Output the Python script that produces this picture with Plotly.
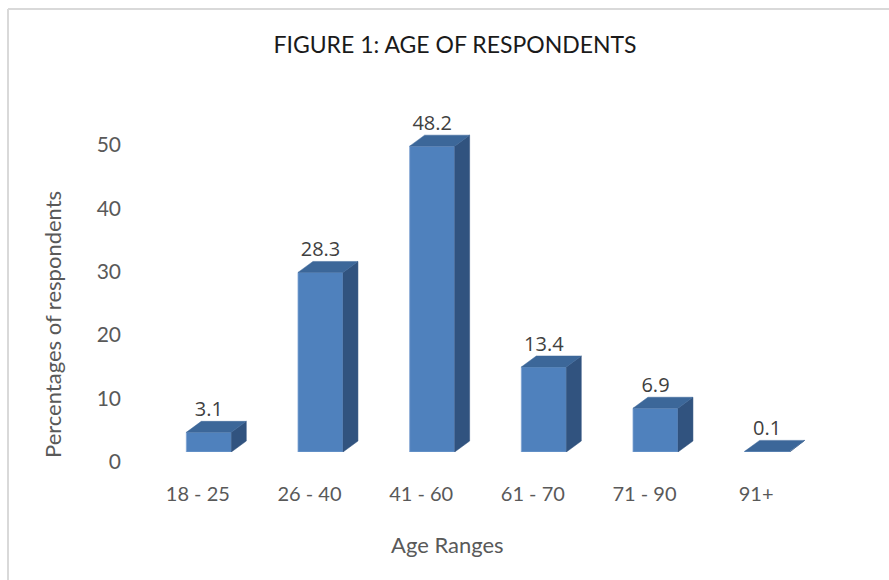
import plotly.graph_objects as go

# ---- data ----
categories = ["18 - 25", "26 - 40", "41 - 60", "61 - 70", "71 - 90", "91+"]
percentages = [3.1, 28.3, 48.2, 13.4, 6.9, 0.1]
value_labels = ["3.1", "28.3", "48.2", "13.4", "6.9", "0.1"]
y_ticks = [0, 10, 20, 30, 40, 50]

title_text = "FIGURE 1: AGE OF RESPONDENTS"
x_title = "Age Ranges"
y_title = "Percentages of respondents"

# ---- styling / 3D look ----
BAR_W = 0.403   # front face width (category units)
DX = 0.134      # depth offset in x (category units)
DY = 1.73       # depth offset in y (value units)
FRONT = "#4F81BD"
TOP = "#3C6799"
SIDE = "#31537F"
GILL = "Lato, 'Open Sans', sans-serif"
CAL = "'Open Sans', 'Liberation Sans', sans-serif"

xs = list(range(len(categories)))

side_x, side_y, top_x, top_y = [], [], [], []
for x, v in zip(xs, percentages):
    l, r = x - BAR_W / 2, x + BAR_W / 2
    side_x += [r, r + DX, r + DX, r, r, None]
    side_y += [0, DY, v + DY, v, 0, None]
    top_x += [l, r, r + DX, l + DX, l, None]
    top_y += [v, v, v + DY, v + DY, v, None]

fig = go.Figure()
fig.add_trace(go.Bar(
    x=xs, y=percentages, width=BAR_W,
    marker=dict(color=FRONT, line=dict(color="#7FA3D3", width=0.8)),
    hoverinfo="skip", showlegend=False,
))
fig.add_trace(go.Scatter(
    x=side_x, y=side_y, mode="lines", fill="toself", fillcolor=SIDE,
    line=dict(color=SIDE, width=0.5), hoverinfo="skip", showlegend=False,
))
fig.add_trace(go.Scatter(
    x=top_x, y=top_y, mode="lines", fill="toself", fillcolor=TOP,
    line=dict(color=TOP, width=0.5), hoverinfo="skip", showlegend=False,
))
fig.add_trace(go.Scatter(
    x=xs, y=[v + DY for v in percentages], mode="text",
    text=value_labels, textposition="top center",
    textfont=dict(family=CAL, size=20, color="#404040"),
    hoverinfo="skip", showlegend=False, cliponaxis=False,
))

L, R, T, B = 153, 66, 103, 128
W, H = 889, 580
pw, ph = W - L - R, H - T - B

def px_to_paper_x(px):
    return (px - L) / pw

def px_to_paper_y(py):
    return (H - B - py) / ph

fig.update_layout(
    width=W, height=H,
    margin=dict(l=L, r=R, t=T, b=B, pad=0),
    paper_bgcolor="white", plot_bgcolor="white",
    title=dict(text=title_text, x=455 / W, xref="container", xanchor="center",
               y=1 - 45 / H, yref="container", yanchor="middle",
               font=dict(family=GILL, size=23, color="#1a1a1a")),
    xaxis=dict(range=[-0.5, 5.5], tickvals=xs, ticktext=categories,
               showgrid=False, zeroline=False, showline=False, ticks="",
               ticklabelstandoff=28, ticklabelshift=-11,
               tickfont=dict(family=GILL, size=20, color="#595959")),
    yaxis=dict(range=[0, 55], tickvals=y_ticks, showgrid=False, zeroline=False,
               showline=False, ticks="", ticklabelstandoff=31, ticklabelshift=10,
               tickfont=dict(family=GILL, size=21, color="#595959")),
    annotations=[
        dict(text=y_title, xref="paper", yref="paper",
             x=px_to_paper_x(52), y=px_to_paper_y(325), textangle=-90,
             xanchor="center", yanchor="middle", showarrow=False,
             font=dict(family=GILL, size=22, color="#595959")),
        dict(text=x_title, xref="paper", yref="paper",
             x=px_to_paper_x(447), y=px_to_paper_y(544),
             xanchor="center", yanchor="middle", showarrow=False,
             font=dict(family=GILL, size=22, color="#595959")),
    ],
    shapes=[
        dict(type="line", xref="paper", yref="paper",
             x0=px_to_paper_x(8), x1=px_to_paper_x(8),
             y0=px_to_paper_y(9), y1=px_to_paper_y(585),
             line=dict(color="#D9D9D9", width=2)),
        dict(type="line", xref="paper", yref="paper",
             x0=px_to_paper_x(8), x1=px_to_paper_x(895),
             y0=px_to_paper_y(9), y1=px_to_paper_y(9),
             line=dict(color="#D9D9D9", width=2)),
    ],
)

fig.write_html("out.html", config={"displayModeBar": False},
               post_script="document.body.style.margin='0';")
